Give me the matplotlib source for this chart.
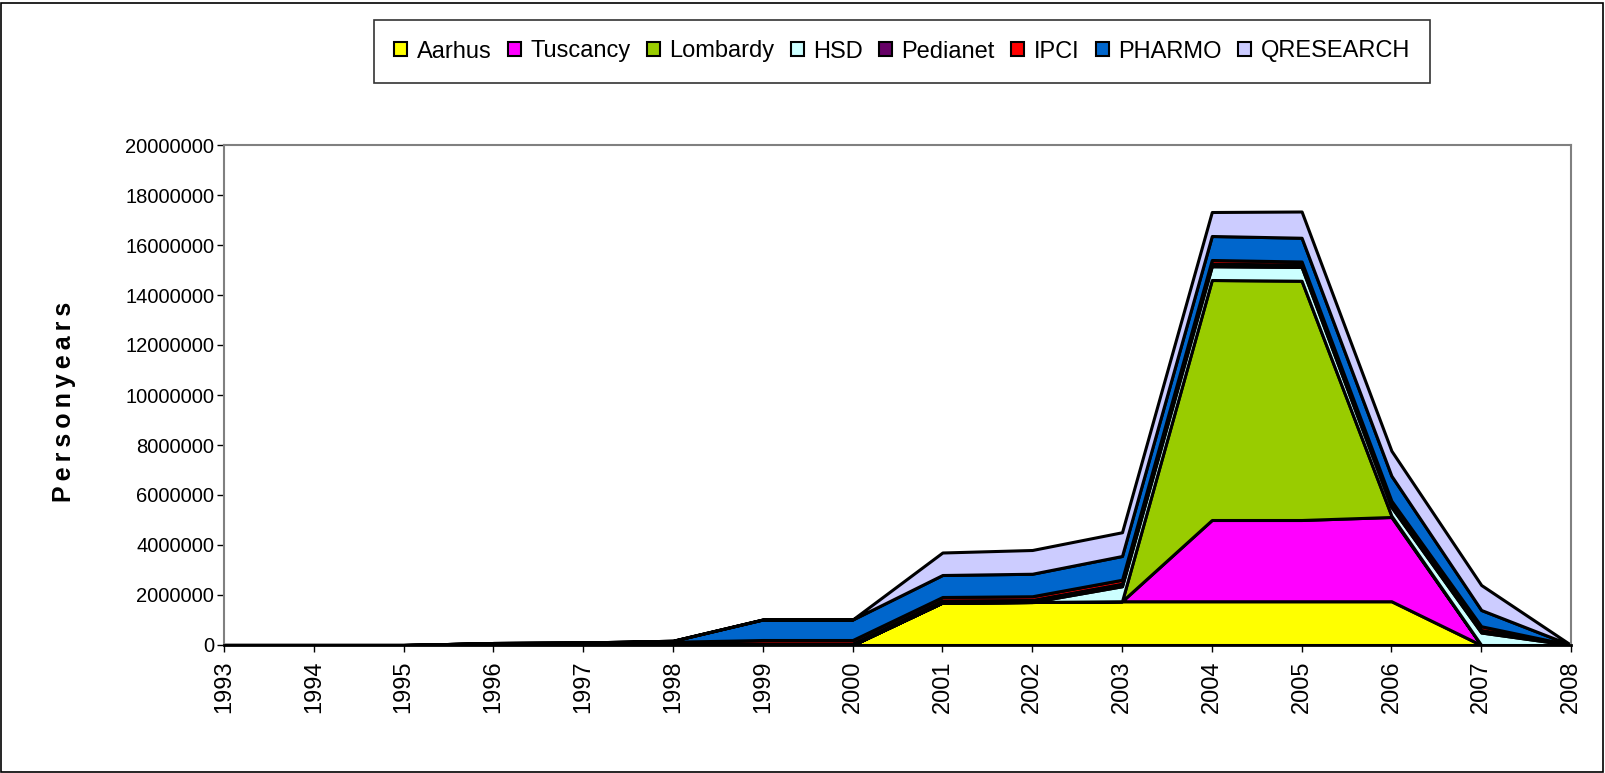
import matplotlib
matplotlib.use("Agg")
import matplotlib.pyplot as plt
from matplotlib.patches import Rectangle, Patch
from matplotlib.ticker import FuncFormatter, MultipleLocator
import numpy as np

plt.rcParams["font.family"] = ["Liberation Sans", "DejaVu Sans"]

years = [1993, 1994, 1995, 1996, 1997, 1998, 1999, 2000,
         2001, 2002, 2003, 2004, 2005, 2006, 2007, 2008]

# person-years in millions
aarhus    = [0, 0, 0, 0, 0, 0, 0, 0, 1.70, 1.72, 1.75, 1.75, 1.75, 1.75, 0, 0]
tuscancy  = [0, 0, 0, 0, 0, 0, 0, 0, 0, 0, 0, 3.25, 3.25, 3.37, 0, 0]
lombardy  = [0, 0, 0, 0, 0, 0, 0, 0, 0, 0, 0, 9.60, 9.57, 0.05, 0, 0]
hsd       = [0, 0, 0, 0, 0, 0, 0, 0, 0, 0, 0.60, 0.55, 0.55, 0.35, 0.50, 0]
pedianet  = [0, 0, 0, 0.03, 0.04, 0.05, 0.06, 0.06, 0.08, 0.08, 0.10, 0.10, 0.10, 0.10, 0.10, 0]
ipci      = [0, 0, 0, 0.05, 0.06, 0.08, 0.14, 0.14, 0.14, 0.15, 0.16, 0.15, 0.12, 0.15, 0.15, 0]
pharmo    = [0, 0, 0, 0, 0, 0.04, 0.82, 0.82, 0.88, 0.90, 0.95, 0.96, 0.95, 1.00, 0.65, 0]
qresearch = [0, 0, 0, 0, 0, 0, 0, 0, 0.90, 0.95, 0.95, 0.96, 1.05, 1.00, 1.00, 0]

names = ["Aarhus", "Tuscancy", "Lombardy", "HSD", "Pedianet", "IPCI", "PHARMO", "QRESEARCH"]
colors = ["#FFFF00", "#FF00FF", "#99CC00", "#CCFFFF", "#660066", "#FF0000", "#0066CC", "#CCCCFF"]
series = [aarhus, tuscancy, lombardy, hsd, pedianet, ipci, pharmo, qresearch]

W, H = 1606, 773
fig = plt.figure(figsize=(W / 100, H / 100), dpi=100)
ax = fig.add_axes([224 / W, 1 - 645 / H, (1571 - 224) / W, (645 - 145) / H])

x = np.arange(len(years))
ys = [np.array(s) * 1e6 for s in series]
ax.stackplot(x, *ys, colors=colors, edgecolor="black", linewidth=2.2, zorder=2)

ax.set_xlim(0, len(years) - 1)
ax.set_ylim(0, 20000000)
ax.yaxis.set_major_locator(MultipleLocator(2000000))
ax.yaxis.set_major_formatter(FuncFormatter(lambda v, p: f"{int(round(v))}"))
ax.set_xticks(x)
ax.set_xticklabels([str(y) for y in years], rotation=90)
ax.tick_params(axis="both", direction="out", length=5, width=1, color="black")
ax.tick_params(axis="y", pad=2, labelsize=14.5)
ax.tick_params(axis="x", pad=6, labelsize=17)

for side in ["left", "top", "right"]:
    ax.spines[side].set_color("#808080")
    ax.spines[side].set_linewidth(1.5)
ax.spines["bottom"].set_color("black")
ax.spines["bottom"].set_linewidth(2)
ax.spines["bottom"].set_zorder(3)

fig.text(64 / W, 1 - 402 / H, "\u2009".join("Personyears"), rotation=90,
         ha="center", va="center", fontsize=18, fontweight="bold")

handles = [Patch(facecolor=c, edgecolor="black", linewidth=1.5) for c in colors]
leg = fig.legend(handles, names, loc="center", mode="expand",
                 bbox_to_anchor=(374 / W, 1 - 80 / H, 1056 / W, 57 / H),
                 ncol=8, frameon=True, fancybox=False, edgecolor="black", fontsize=17,
                 handlelength=0.55, handleheight=0.55, handletextpad=0.4,
                 columnspacing=0.4, borderpad=0.85, borderaxespad=0)
leg.get_frame().set_linewidth(1.2)

fig.patches.append(Rectangle((1.5 / W, 1.5 / H), (W - 4) / W, (H - 4) / H,
                             transform=fig.transFigure, fill=False,
                             edgecolor="black", linewidth=1.2))

fig.savefig("out.png", dpi=100)
